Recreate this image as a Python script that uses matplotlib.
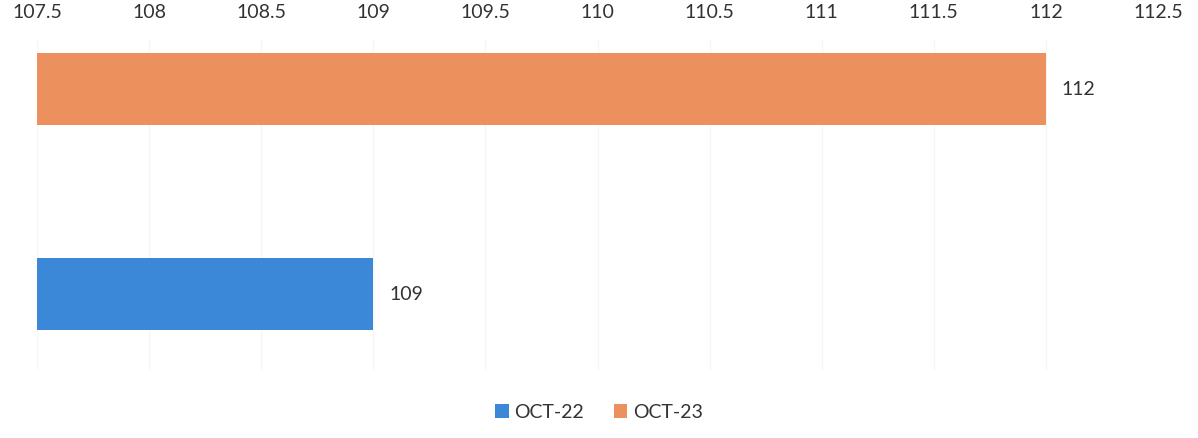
import matplotlib.pyplot as plt

series = ["OCT-22", "OCT-23"]
values = [109, 112]
colors = ["#3b87d8", "#ec915e"]
ticks = [107.5, 108, 108.5, 109, 109.5, 110, 110.5, 111, 111.5, 112, 112.5]

plt.rcParams['font.family'] = ['Lato', 'DejaVu Sans']

fig = plt.figure(figsize=(11.98, 4.38), dpi=100)
ax = fig.add_axes([37/1198, 1 - 370/438, (1158 - 37)/1198, 330/438])

for i, (name, v, c) in enumerate(zip(series, values, colors)):
    ax.barh(i, v - ticks[0], left=ticks[0], height=0.35, color=c, label=name, zorder=2)
    ax.text(v + 0.07, i, f"{v:g}", va="center", ha="left", fontsize=14, color="#333333")

ax.set_xlim(ticks[0], ticks[-1])
ax.set_ylim(-0.37, 1.24)
ax.set_xticks(ticks)
ax.set_xticklabels([f"{t:g}" for t in ticks])
ax.xaxis.tick_top()
ax.tick_params(axis="x", length=0, pad=14, labelsize=14, labelcolor="#333333")
ax.set_yticks([])
ax.grid(axis="x", color="#f6f6f6", linewidth=1, zorder=0)
for s in ax.spines.values():
    s.set_visible(False)

fig.legend(loc="lower center", bbox_to_anchor=(0.5, 0.0), ncol=2, frameon=False,
           fontsize=14, handlelength=0.7, handleheight=0.7, handletextpad=0.3,
           columnspacing=1.5, labelcolor="#333333")

fig.savefig("out.png", dpi=100)
